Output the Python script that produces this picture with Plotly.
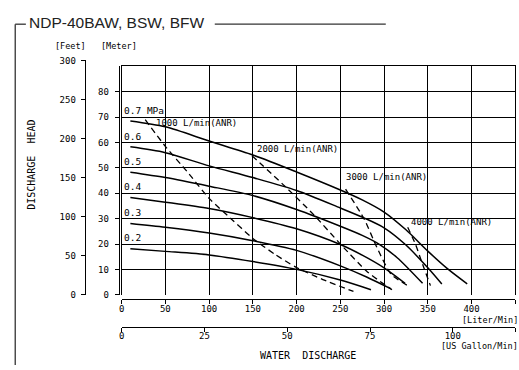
import plotly.graph_objects as go

# Pump performance: discharge head vs water discharge at several air pressures
pressures = ["0.7 MPa", "0.6", "0.5", "0.4", "0.3", "0.2"]
label_heads = [70, 60, 50, 40, 30, 20]

flow_07 = [10, 50, 100, 150, 200, 250, 275, 300, 325, 350, 372, 395]
head_07 = [68.5, 66.2, 60.6, 55.1, 48.4, 41.3, 37.4, 32.6, 25.6, 17.2, 10.4, 4.3]
flow_06 = [10, 50, 100, 150, 200, 250, 277, 300, 325, 350, 366]
head_06 = [58.3, 56.0, 50.8, 46.2, 41.1, 34.2, 30.3, 26.4, 19.6, 10.6, 4.2]
flow_05 = [10, 50, 100, 150, 200, 250, 275, 295, 315, 344]
head_05 = [48.3, 46.2, 42.8, 39.1, 33.6, 27.0, 23.4, 19.8, 14.6, 4.5]
flow_04 = [10, 50, 100, 150, 200, 250, 275, 300, 324]
head_04 = [38.3, 36.5, 34.0, 30.4, 26.0, 19.8, 15.6, 10.6, 4.5]
flow_03 = [10, 50, 100, 150, 200, 250, 280, 308]
head_03 = [28.1, 26.6, 24.3, 21.3, 17.5, 11.4, 7.0, 2.3]
flow_02 = [10, 50, 100, 150, 200, 250, 285]
head_02 = [18.1, 17.1, 15.7, 13.1, 10.0, 5.8, 2.0]

# Air consumption lines
air_labels = ["1000 L/min(ANR)", "2000 L/min(ANR)", "3000 L/min(ANR)", "4000 L/min(ANR)"]
air_label_flow = [36.8, 153, 254, 329]
air_label_head = [67.8, 57.3, 46.4, 28.5]
air_flow_1000 = [27, 50, 75, 100, 125, 150, 175, 200, 230, 265]
air_head_1000 = [69.0, 58.5, 48.5, 38.0, 30.0, 22.2, 16.0, 10.7, 6.0, 1.3]
air_flow_2000 = [149, 186, 220, 250, 281, 309]
air_head_2000 = [54.8, 43.0, 31.4, 20.0, 9.0, 2.0]
air_flow_3000 = [256, 277, 292, 308, 330]
air_head_3000 = [41.6, 30.0, 18.5, 8.1, 3.0]
air_flow_4000 = [327, 336, 344, 353]
air_head_4000 = [26.6, 19.8, 12.0, 3.6]

liter_ticks = [0, 50, 100, 150, 200, 250, 300, 350, 400, 450]
liter_text = ["0", "50", "100", "150", "200", "250", "300", "350", "400", ""]
gallon_ticks = [0, 25, 50, 75, 100]
meter_ticks = [0, 10, 20, 30, 40, 50, 60, 70, 80]
feet_ticks = [0, 50, 100, 150, 200, 250, 300]

LITERS_PER_GALLON = 3.78541
W, H = 519, 370
MONO = "DejaVu Sans Mono"
INK = "#000000"
CLEAR = "rgba(0,0,0,0)"

def px_x(p):
    return p / W

def px_y(p):
    return 1 - p / H

x_dom = [px_x(119.3), px_x(515.3)]
y0 = 298.0
m_px = 2.6
ft_px = 0.8
grid_top = 64.0
gal_max = 450 / LITERS_PER_GALLON

fig = go.Figure()

solid = [(flow_07, head_07), (flow_06, head_06), (flow_05, head_05),
         (flow_04, head_04), (flow_03, head_03), (flow_02, head_02)]
for fx, hy in solid:
    fig.add_trace(go.Scatter(x=fx, y=hy, mode="lines",
                             line=dict(color=INK, width=1.5, shape="spline", smoothing=0.8),
                             hoverinfo="skip", showlegend=False))

dashed = [(air_flow_1000, air_head_1000), (air_flow_2000, air_head_2000),
          (air_flow_3000, air_head_3000), (air_flow_4000, air_head_4000)]
for fx, hy in dashed:
    fig.add_trace(go.Scatter(x=fx, y=hy, mode="lines",
                             line=dict(color=INK, width=1.3, dash="6px,4px", shape="spline", smoothing=0.6),
                             hoverinfo="skip", showlegend=False))

# empty traces so the secondary scales get their own subplots
for xa, ya in [("x2", "y2"), ("x3", "y3")]:
    fig.add_trace(go.Scatter(x=[], y=[], xaxis=xa, yaxis=ya, mode="lines",
                             hoverinfo="skip", showlegend=False))

top_m = (y0 - grid_top) / m_px
tick_font = dict(family=MONO, size=9, color=INK)
unit_font = dict(family=MONO, size=8.5, color=INK)

fig.update_layout(
    width=W, height=H, autosize=False,
    margin=dict(l=0, r=0, t=0, b=0),
    paper_bgcolor="white", plot_bgcolor=CLEAR,
    showlegend=False,
    xaxis=dict(domain=x_dom, range=[0, 450], tickvals=liter_ticks, showticklabels=False,
               ticks="", showgrid=True, gridcolor=INK, gridwidth=1.3, zeroline=False,
               showline=True, linecolor=INK, linewidth=1.3, side="top", anchor="y"),
    yaxis=dict(domain=[px_y(y0), px_y(grid_top)], range=[0, top_m], tickvals=meter_ticks[1:],
               showticklabels=False, ticks="", showgrid=True, gridcolor=INK, gridwidth=1.3,
               zeroline=False, showline=True, mirror=True, linecolor=INK, linewidth=1.3,
               anchor="x"),
    # Liter/min scale
    xaxis2=dict(domain=x_dom, range=[0, 450], anchor="free", position=px_y(302),
                tickvals=liter_ticks, ticktext=liter_text, ticks="outside", ticklen=4,
                tickcolor=INK, showline=True, linecolor=INK, linewidth=1.3,
                showgrid=False, zeroline=False, tickfont=tick_font, ticklabelstandoff=-3),
    # US gallon/min scale
    xaxis3=dict(domain=x_dom, range=[0, gal_max], anchor="free", position=px_y(331),
                tickvals=gallon_ticks + [gal_max],
                ticktext=[str(v) for v in gallon_ticks] + [""],
                ticks="outside", ticklen=4, tickcolor=INK,
                showline=True, linecolor=INK, linewidth=1.3,
                showgrid=False, zeroline=False, tickfont=tick_font, ticklabelstandoff=-4),
    # Meter scale
    yaxis2=dict(domain=[px_y(y0), px_y(grid_top)], range=[0, top_m], anchor="free",
                position=px_x(116.5), side="left", tickvals=meter_ticks, ticks="outside",
                ticklen=4, tickcolor=INK, showline=True, linecolor=INK, linewidth=1.3,
                showgrid=False, zeroline=False, tickfont=tick_font, ticklabelstandoff=4),
    # Feet scale
    yaxis3=dict(domain=[px_y(y0), px_y(57)], range=[0, (y0 - 57) / ft_px], anchor="free",
                position=px_x(82.3), side="left", tickvals=feet_ticks, ticks="outside",
                ticklen=4, tickcolor=INK, showline=True, linecolor=INK, linewidth=1.3,
                showgrid=False, zeroline=False, tickfont=tick_font, ticklabelstandoff=3),
)

ann = []
for lab, h in zip(pressures, label_heads):
    ann.append(dict(x=0, y=h, xref="x", yref="y", text=lab, showarrow=False,
                    xanchor="left", yanchor="bottom", yshift=-1,
                    font=dict(family=MONO, size=9.5, color=INK)))
for lab, fx, hy in zip(air_labels, air_label_flow, air_label_head):
    ann.append(dict(x=fx, y=hy, xref="x", yref="y", text=lab, showarrow=False,
                    xanchor="left", yanchor="middle", font=dict(family=MONO, size=9, color=INK)))

paper_text = [
    ("NDP-40BAW, BSW, BFW", 25, 19, "left", dict(family="Liberation Sans", size=15.5, color="#222")),
    ("[Feet]", 68, 43, "center", unit_font),
    ("[Meter]", 117, 43, "center", unit_font),
    ("[Liter/Min]", 519, 323.5, "right", unit_font),
    ("[US Gallon/Min]", 519, 350.5, "right", unit_font),
    ("WATER  DISCHARGE", 307, 360, "center", dict(family=MONO, size=10, color=INK)),
]
for t, x, y, xa, f in paper_text:
    ann.append(dict(x=px_x(x), y=px_y(y), xref="paper", yref="paper", text=t, showarrow=False,
                    xanchor=xa, yanchor="middle", font=f, borderpad=0))
ann.append(dict(x=px_x(29), y=px_y(165), xref="paper", yref="paper", text="DISCHARGE  HEAD",
                showarrow=False, textangle=-90, xanchor="center", yanchor="middle",
                font=dict(family=MONO, size=10, color=INK)))
fig.update_layout(annotations=ann)

# Bracket frame around the chart with the model name
frame = dict(color="#333", width=1.3)
fig.update_layout(shapes=[
    dict(type="line", xref="paper", yref="paper", x0=px_x(12.3), x1=px_x(12.3),
         y0=px_y(20.7), y1=0, line=frame),
    dict(type="line", xref="paper", yref="paper", x0=px_x(12.3), x1=px_x(23),
         y0=px_y(20.7), y1=px_y(20.7), line=frame),
    dict(type="line", xref="paper", yref="paper", x0=px_x(213), x1=px_x(385),
         y0=px_y(20.7), y1=px_y(20.7), line=frame),
])

fig.write_html("out.html")
